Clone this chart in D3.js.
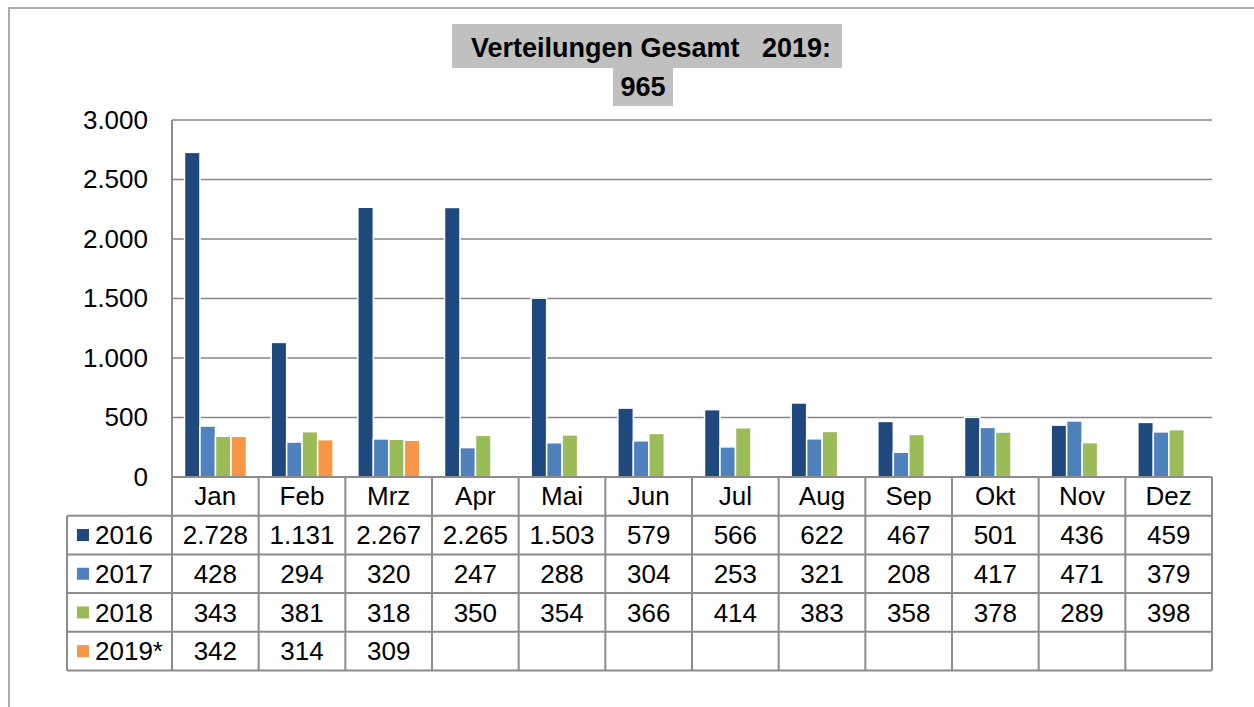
<!DOCTYPE html>
<html>
<head>
<meta charset="utf-8">
<script src="https://cdn.jsdelivr.net/npm/d3@7"></script>
<style>
  body { margin: 0; background: #fff; }
  svg { font-family: "Liberation Sans", Arial, sans-serif; }
</style>
</head>
<body>
<div id="chart"></div>
<script>
var months = ["Jan", "Feb", "Mrz", "Apr", "Mai", "Jun", "Jul", "Aug", "Sep", "Okt", "Nov", "Dez"];
var seriesNames = ["2016", "2017", "2018", "2019*"];
var v2016 = [2728, 1131, 2267, 2265, 1503, 579, 566, 622, 467, 501, 436, 459];
var v2017 = [428, 294, 320, 247, 288, 304, 253, 321, 208, 417, 471, 379];
var v2018 = [343, 381, 318, 350, 354, 366, 414, 383, 358, 378, 289, 398];
var v2019 = [342, 314, 309];
var colors = ["#1f497d", "#4f81bd", "#9bbb59", "#f79646"];
var yTicks = [0, 500, 1000, 1500, 2000, 2500, 3000];
var titleLine1 = "Verteilungen Gesamt   2019:";
var titleLine2 = "965";

var width = 1254, height = 707;
var plotLeft = 172, plotRight = 1212, plotTop = 120, plotBottom = 477;
var rowH = 38.7;
var legendLeft = 67;
var lineColor = "#8c8c8c";
var fontSize = "26px";

var de = d3.formatLocale({decimal: ",", thousands: ".", grouping: [3], currency: ["", "€"]});
var fmt = de.format(",d");

var allSeries = [v2016, v2017, v2018, v2019];

var svg = d3.select("#chart").append("svg")
    .attr("width", width)
    .attr("height", height);

// outer frame
svg.append("rect")
    .attr("x", 9).attr("y", 8)
    .attr("width", width + 20).attr("height", height + 20)
    .style("fill", "none")
    .style("stroke", "#a0a0a0")
    .style("stroke-width", 1.7);

var x0 = d3.scaleBand().domain(months).range([plotLeft, plotRight]);
var x1 = d3.scaleBand().domain(seriesNames).range([12.5, x0.bandwidth() - 12.2]);
var y = d3.scaleLinear().domain([0, 3000]).range([plotBottom, plotTop]);

// gridlines
svg.append("g").selectAll("line")
    .data(yTicks.filter(function(d) { return d > 0; }))
  .enter().append("line")
    .attr("x1", plotLeft).attr("x2", plotRight)
    .attr("y1", function(d) { return y(d); })
    .attr("y2", function(d) { return y(d); })
    .style("stroke", "#868686")
    .style("stroke-width", 1.6);

// y axis labels
var yAxis = svg.append("g")
    .attr("transform", "translate(" + (plotLeft - 24) + ",0)")
    .call(d3.axisLeft(y).tickValues(yTicks).tickSize(0).tickPadding(0).tickFormat(fmt));
yAxis.select(".domain").remove();
yAxis.selectAll("text")
    .style("font-size", fontSize)
    .style("font-family", "'Liberation Sans', Arial, sans-serif")
    .style("fill", "#000");

// bars
var groups = svg.append("g").selectAll("g")
    .data(allSeries)
  .enter().append("g")
    .style("fill", function(d, i) { return colors[i]; });

groups.selectAll("rect")
    .data(function(d, i) {
        return d.map(function(v, j) { return {m: months[j], s: seriesNames[i], v: v}; });
    })
  .enter().append("rect")
    .attr("x", function(d) { return x0(d.m) + x1(d.s); })
    .attr("width", x1.bandwidth())
    .attr("y", function(d) { return y(d.v); })
    .attr("height", function(d) { return y(0) - y(d.v); })
    .style("stroke", "#fff")
    .style("stroke-width", 1.5);

// table
var table = svg.append("g");
var tableBottom = plotBottom + rowH * 5;

// horizontal lines
table.append("line")
    .attr("x1", plotLeft).attr("x2", plotRight)
    .attr("y1", plotBottom).attr("y2", plotBottom)
    .style("stroke", lineColor).style("stroke-width", 2);
for (var r = 1; r <= 5; r++) {
    table.append("line")
        .attr("x1", legendLeft).attr("x2", plotRight)
        .attr("y1", plotBottom + rowH * r).attr("y2", plotBottom + rowH * r)
        .style("stroke", lineColor).style("stroke-width", 2);
}
// vertical lines
table.append("line")
    .attr("x1", legendLeft).attr("x2", legendLeft)
    .attr("y1", plotBottom + rowH).attr("y2", tableBottom)
    .style("stroke", lineColor).style("stroke-width", 2);
table.append("line")
    .attr("x1", plotLeft).attr("x2", plotLeft)
    .attr("y1", plotTop).attr("y2", tableBottom)
    .style("stroke", lineColor).style("stroke-width", 2);
table.selectAll(".vl")
    .data(months)
  .enter().append("line")
    .attr("class", "vl")
    .attr("x1", function(d) { return x0(d) + x0.bandwidth(); })
    .attr("x2", function(d) { return x0(d) + x0.bandwidth(); })
    .attr("y1", plotBottom).attr("y2", tableBottom)
    .style("stroke", lineColor).style("stroke-width", 2);

// month header
table.selectAll(".mh")
    .data(months)
  .enter().append("text")
    .attr("class", "mh")
    .attr("x", function(d) { return x0(d) + x0.bandwidth() / 2; })
    .attr("y", plotBottom + rowH / 2)
    .attr("dy", ".35em")
    .attr("text-anchor", "middle")
    .style("font-size", fontSize)
    .text(function(d) { return d; });

// legend column
seriesNames.forEach(function(name, i) {
    var cy = plotBottom + rowH * (i + 1.5);
    table.append("rect")
        .attr("x", 77).attr("y", cy - 6)
        .attr("width", 12).attr("height", 12)
        .style("fill", colors[i]);
    table.append("text")
        .attr("x", 95).attr("y", cy)
        .attr("dy", ".35em")
        .style("font-size", fontSize)
        .text(name);
    table.selectAll(".v" + i)
        .data(allSeries[i])
      .enter().append("text")
        .attr("x", function(d, j) { return x0(months[j]) + x0.bandwidth() / 2; })
        .attr("y", cy)
        .attr("dy", ".35em")
        .attr("text-anchor", "middle")
        .style("font-size", fontSize)
        .text(function(d) { return fmt(d); });
});

// title
svg.append("rect")
    .attr("x", 452).attr("y", 24).attr("width", 390).attr("height", 44)
    .style("fill", "#c0c0c0");
svg.append("rect")
    .attr("x", 613).attr("y", 68).attr("width", 60).attr("height", 38)
    .style("fill", "#c0c0c0");
svg.append("text")
    .attr("x", 651).attr("y", 56.5)
    .attr("text-anchor", "middle")
    .attr("xml:space", "preserve")
    .style("white-space", "pre")
    .style("font-size", "27px")
    .style("font-weight", "bold")
    .text(titleLine1);
svg.append("text")
    .attr("x", 643).attr("y", 96)
    .attr("text-anchor", "middle")
    .style("font-size", "27px")
    .style("font-weight", "bold")
    .text(titleLine2);
</script>
</body>
</html>
